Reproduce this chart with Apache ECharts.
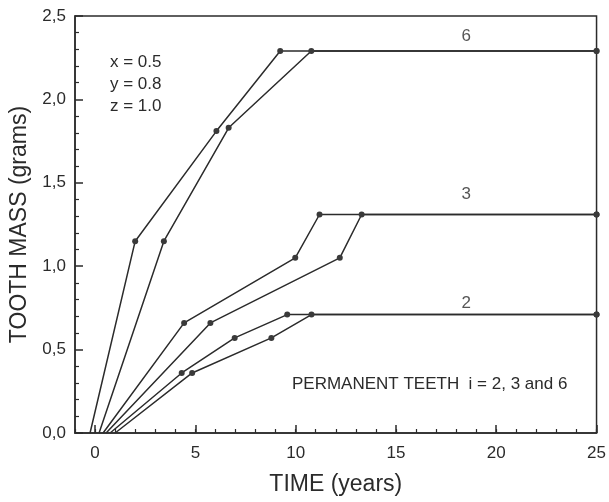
<!DOCTYPE html>
<html>
<head>
<meta charset="utf-8">
<script src="https://cdn.jsdelivr.net/npm/echarts@6/dist/echarts.min.js"></script>
<style>
  html, body { margin: 0; padding: 0; background: #fff; }
  #chart { width: 609px; height: 502px; }
</style>
</head>
<body>
<div id="chart"></div>
<script>
// tooth 6
const time6a = [-0.25, 2.0, 6.05, 9.23, 25];
const mass6a = [0, 1.15, 1.81, 2.29, 2.29];
const time6b = [0.2, 3.43, 6.66, 10.78, 25];
const mass6b = [0, 1.15, 1.83, 2.29, 2.29];
// tooth 3
const time3a = [0.4, 4.44, 9.98, 11.19, 25];
const mass3a = [0, 0.66, 1.05, 1.31, 1.31];
const time3b = [0.55, 5.75, 12.2, 13.29, 25];
const mass3b = [0, 0.66, 1.05, 1.31, 1.31];
// tooth 2
const time2a = [0.75, 4.32, 6.96, 9.58, 25];
const mass2a = [0, 0.36, 0.57, 0.71, 0.71];
const time2b = [1.0, 4.84, 8.79, 10.79, 25];
const mass2b = [0, 0.36, 0.57, 0.71, 0.71];

const xTicks = [0, 5, 10, 15, 20, 25];
const curveLabels = ['6', '3', '2'];
const curveLabelPos = [[18.5, 2.38], [18.5, 1.43], [18.5, 0.78]];
const paramLines = ['x = 0.5', 'y = 0.8', 'z = 1.0'];
const noteText = 'PERMANENT TEETH  i = 2, 3 and 6';

const ink = '#2b2b2b';
const font = 'Liberation Sans, Arial, sans-serif';

const chart = echarts.init(document.getElementById('chart'));

const curve = (times, masses) => ({
  type: 'line',
  xAxisIndex: 0,
  data: times.map((t, i) => i === 0 ? { value: [t, masses[i]], symbol: 'none' } : [t, masses[i]]),
  symbol: 'circle',
  symbolSize: 6,
  lineStyle: { color: ink, width: 1.5 },
  itemStyle: { color: '#3a3a3a' },
  animation: false,
  z: 3
});

const series = [
  curve(time6a, mass6a), curve(time6b, mass6b),
  curve(time3a, mass3a), curve(time3b, mass3b),
  curve(time2a, mass2a), curve(time2b, mass2b)
];

// curve number labels placed in data coordinates
series.push({
  type: 'scatter',
  data: curveLabelPos.map((p, i) => ({ value: p, name: curveLabels[i] })),
  symbolSize: 0,
  label: { show: true, position: 'inside', formatter: p => p.name, color: ink, fontFamily: font, fontSize: 17 },
  silent: true,
  animation: false
});

chart.setOption({
  backgroundColor: '#fff',
  grid: { left: 75, right: 11, top: 16, bottom: 69, show: true, borderColor: ink, borderWidth: 1.5 },
  xAxis: [
    {
      type: 'value', min: -1, max: 25,
      name: 'TIME (years)', nameLocation: 'middle', nameGap: 40,
      nameTextStyle: { fontFamily: font, fontSize: 23, color: ink },
      axisLine: { show: true, onZero: false, lineStyle: { color: ink, width: 1.5 } },
      axisTick: { show: true, inside: true, length: 8, customValues: xTicks, lineStyle: { color: ink, width: 1.5 } },
      axisLabel: { customValues: xTicks, margin: 12, fontFamily: font, fontSize: 17, color: ink },
      splitLine: { show: false }
    },
    {
      type: 'value', min: -1, max: 25, interval: 1, position: 'bottom',
      axisLine: { show: false, onZero: false },
      axisTick: { show: true, inside: true, length: 4, lineStyle: { color: ink, width: 1.2 } },
      axisLabel: { show: false },
      splitLine: { show: false }
    }
  ],
  yAxis: {
    type: 'value', min: 0, max: 2.5, interval: 0.5,
    name: 'TOOTH MASS (grams)', nameLocation: 'middle', nameGap: 40,
    nameTextStyle: { fontFamily: font, fontSize: 23, color: ink },
    axisLine: { show: true, onZero: false, lineStyle: { color: ink, width: 1.5 } },
    axisTick: { show: true, inside: true, length: 8, lineStyle: { color: ink, width: 1.5 } },
    minorTick: { show: true, splitNumber: 5, length: 4, lineStyle: { color: ink, width: 1.2 } },
    axisLabel: {
      margin: 9, fontFamily: font, fontSize: 17, color: ink,
      formatter: v => v.toFixed(1).replace('.', ',')
    },
    splitLine: { show: false }
  },
  graphic: [
    {
      type: 'text', left: 110, top: 51,
      style: { text: paramLines.join('\n'), font: '17px ' + font, fill: ink, lineHeight: 22 }
    },
    {
      type: 'text', left: 292, top: 376,
      style: { text: noteText, font: '17px ' + font, fill: ink }
    }
  ],
  series: series
});
</script>
</body>
</html>
